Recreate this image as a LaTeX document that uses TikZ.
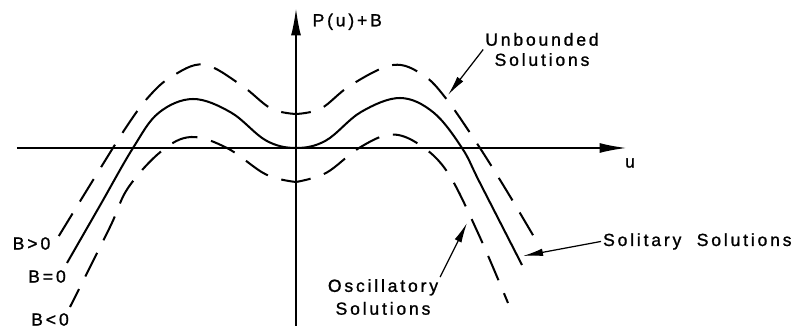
\documentclass[tikz,border=0pt]{standalone}
\usepackage{fontspec}
\setmainfont{Liberation Sans}
\newfontfamily\lblfont[LetterSpace=16,FakeBold=1.2]{Liberation Sans}
\usetikzlibrary{arrows.meta}

\begin{document}
\begin{tikzpicture}[
  curve/.style={line width=1.15pt},
  branch/.style={line width=1.15pt, dash pattern=on 15pt off 8pt, dash phase=6.5pt},
  lbl/.style={font=\lblfont\fontsize{10}{11.5}\selectfont, inner sep=1pt, align=center},
  axis/.style={line width=1.15pt, -{Latex[length=5.5mm,width=2mm]}},
  pointer/.style={line width=0.7pt, -{Latex[length=4mm,width=1.5mm]}}
]
  % Frame
  \useasboundingbox (-5.92,-3.66) rectangle (9.96,2.96);

  % Axes
  \coordinate (uleft) at (-5.58,0);
  \coordinate (uright) at (6.62,0);
  \coordinate (pbot) at (0,-3.56);
  \coordinate (ptop) at (0,2.80);
  \draw[axis] (uleft) -- (uright);
  \draw[axis] (pbot) -- (ptop);
  \node[lbl, anchor=west] (plabel) at (0.29,2.525) {P(u)+B};
  \node[lbl] (ulabel) at (6.68,-0.30) {u};

  % B = 0 (solid)
  \draw[curve] plot[smooth, tension=0.6] coordinates {(-4.58,-2.30) (-3.92,-1.15) (-3.26,0)
    (-2.75,0.70) (-2.06,0.98) (-1.30,0.71) (-0.60,0.15) (0,0) (0.60,0.15) (1.30,0.72)
    (2.08,1.0) (2.75,0.71) (3.32,0) (3.68,-0.70) (4.52,-2.34)};

  % B > 0 (dashed, above)
  \draw[branch] plot[smooth, tension=0.6] coordinates {(0,0.68) (-0.50,0.79) (-1.10,1.26)
    (-1.85,1.67) (-2.50,1.42) (-2.95,1.02) (-3.38,0.44) (-4.02,-0.58) (-4.78,-1.82)};
  \draw[branch] plot[smooth, tension=0.6] coordinates {(0,0.68) (0.50,0.79) (1.10,1.26)
    (1.94,1.66) (2.54,1.46) (3.00,0.99) (3.64,0.06) (4.24,-0.90) (4.82,-1.88)};

  % B < 0 (dashed, below)
  \draw[branch] plot[smooth, tension=0.6] coordinates {(0,-0.68) (-0.60,-0.53) (-1.38,0)
    (-2.10,0.22) (-2.70,-0.07) (-3.36,-0.80) (-3.72,-1.58) (-4.52,-3.18)};
  \draw[branch] plot[smooth, tension=0.6] coordinates {(0,-0.68) (0.60,-0.50) (1.26,0)
    (1.90,0.27) (2.48,0.06) (3.04,-0.50) (3.64,-1.70) (4.24,-3.10)};

  % Branch labels
  \node[lbl] (bpos) at (-5.29,-1.91) {B\,>\,0};
  \node[lbl] (bzero) at (-4.98,-2.57) {B\,=\,0};
  \node[lbl] (bneg) at (-4.92,-3.43) {B\,<\,0};

  % Annotations
  \coordinate (unbtip) at (3.04,1.06);
  \coordinate (soltip) at (4.54,-2.16);
  \coordinate (osctip) at (3.42,-1.50);
  \node[lbl] (unb) at (4.92,1.97) {Unbounded\\Solutions};
  \node[lbl, anchor=base west] (sol) at (6.10,-1.96) {Solitary\ \ Solutions};
  \node[lbl] (osc) at (1.74,-2.98) {Oscillatory\\[1.5pt]Solutions};
  \draw[pointer] (unb.west) -- (unbtip);
  \draw[pointer] (sol.west) -- (soltip);
  \draw[pointer] (osc.north east) -- (osctip);
\end{tikzpicture}
\end{document}
